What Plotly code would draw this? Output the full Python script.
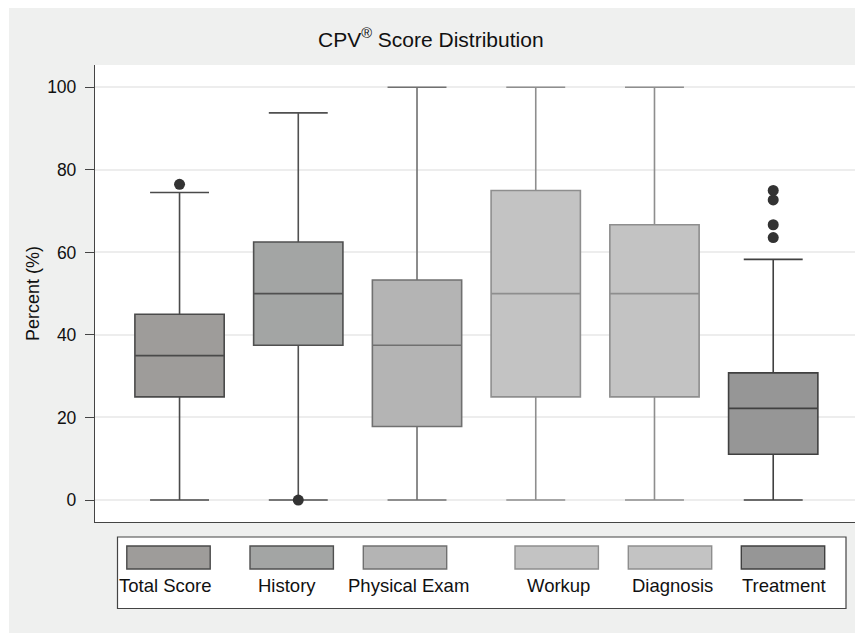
import plotly.graph_objects as go

# ---- data ----
categories = ["Total Score", "History", "Physical Exam", "Workup", "Diagnosis", "Treatment"]
lower_fence = [0, 0, 0, 0, 0, 0]
q1 = [25.0, 37.5, 17.8, 25.0, 25.0, 11.1]
median = [35.0, 50.0, 37.5, 50.0, 50.0, 22.2]
q3 = [45.0, 62.5, 53.3, 75.0, 66.7, 30.8]
upper_fence = [74.5, 93.8, 100, 100, 100, 58.3]
outlier_cat = [0, 1, 5, 5, 5, 5]
outlier_val = [76.5, 0, 63.6, 66.7, 72.7, 75.0]
y_ticks = [0, 20, 40, 60, 80, 100]

# ---- styles ----
fills = ["#9e9c9a", "#a3a5a4", "#b4b4b4", "#c3c3c3", "#c3c3c3", "#969696"]
lines = ["#4a4a4a", "#505050", "#707070", "#8e8e8e", "#8e8e8e", "#404040"]
FONT = "Liberation Sans, Arial, Helvetica, sans-serif"

OFF = 8                      # page offset of the figure (browser body margin)
W, H = 863 - OFF, 633 - OFF
L, R, T, B = 95, 858, 65, 522  # plot area bounds in page pixels

def px_x(p):
    return (p - L) / (R - L)

def px_y(p):
    return (B - p) / (B - T)

fig = go.Figure()
for i, name in enumerate(categories):
    fig.add_trace(go.Box(
        x=[i], q1=[q1[i]], median=[median[i]], q3=[q3[i]],
        lowerfence=[lower_fence[i]], upperfence=[upper_fence[i]],
        name=name, width=0.752, whiskerwidth=0.66,
        fillcolor=fills[i], line=dict(color=lines[i], width=1.6),
        boxpoints=False, showlegend=False, hoverinfo="skip",
    ))

fig.add_trace(go.Scatter(
    x=outlier_cat, y=outlier_val, mode="markers",
    marker=dict(size=11, color="#333333", line=dict(width=0)),
    showlegend=False, hoverinfo="skip",
))

shapes = [
    dict(type="rect", xref="paper", yref="paper", x0=px_x(9), x1=px_x(861),
         y0=px_y(0), y1=px_y(640), fillcolor="#eff0ef", line=dict(width=0), layer="below"),
    dict(type="rect", xref="paper", yref="paper", x0=0, x1=1, y0=0, y1=1,
         fillcolor="white", line=dict(width=0), layer="below"),
    # legend box
    dict(type="rect", xref="paper", yref="paper", x0=px_x(117.5), x1=px_x(846),
         y0=px_y(537), y1=px_y(608.5), fillcolor="white",
         line=dict(color="#444444", width=1.2), layer="above"),
]
annotations = [
    dict(text="CPV<sup>®</sup> Score Distribution", xref="paper", yref="paper",
         x=px_x(431), y=px_y(38), showarrow=False, xanchor="center", yanchor="middle",
         font=dict(family=FONT, size=21, color="#111111")),
    dict(text="Percent (%)", xref="paper", yref="paper", x=px_x(33), y=px_y(294),
         showarrow=False, textangle=-90, xanchor="center", yanchor="middle",
         font=dict(family=FONT, size=18, color="#111111")),
]

sw_centers = [168.5, 291.7, 405, 556.7, 670, 783]
txt_centers = [165, 287, 408, 558, 672, 784]
for i, name in enumerate(categories):
    shapes.append(dict(type="rect", xref="paper", yref="paper",
                       x0=px_x(sw_centers[i] - 41.7), x1=px_x(sw_centers[i] + 41.7),
                       y0=px_y(546), y1=px_y(569), fillcolor=fills[i],
                       line=dict(color=lines[i], width=1.4), layer="above"))
    annotations.append(dict(text=name, xref="paper", yref="paper",
                            x=px_x(txt_centers[i]), y=px_y(585), showarrow=False,
                            xanchor="center", yanchor="middle",
                            font=dict(family=FONT, size=18.5, color="#111111")))

fig.update_layout(
    width=W, height=H,
    margin=dict(l=L - OFF, r=W - (R - OFF), t=T - OFF, b=H - (B - OFF), pad=0),
    paper_bgcolor="white", plot_bgcolor="white",
    boxmode="overlay",
    shapes=shapes, annotations=annotations,
    xaxis=dict(range=[-0.712, 5.714], showgrid=False, zeroline=False,
               showticklabels=False, ticks="", showline=True,
               linecolor="#444444", linewidth=1.3, fixedrange=True),
    yaxis=dict(range=[-5.32, 105.4], tickvals=y_ticks, showgrid=True,
               gridcolor="#ededed", gridwidth=1.5, zeroline=False,
               showline=True, linecolor="#444444", linewidth=1.3,
               ticks="outside", ticklen=9, tickwidth=1.2, tickcolor="#444444",
               ticklabelstandoff=5,
               tickfont=dict(family=FONT, size=17.5, color="#111111")),
    font=dict(family=FONT),
)

fig.write_html("out.html")
